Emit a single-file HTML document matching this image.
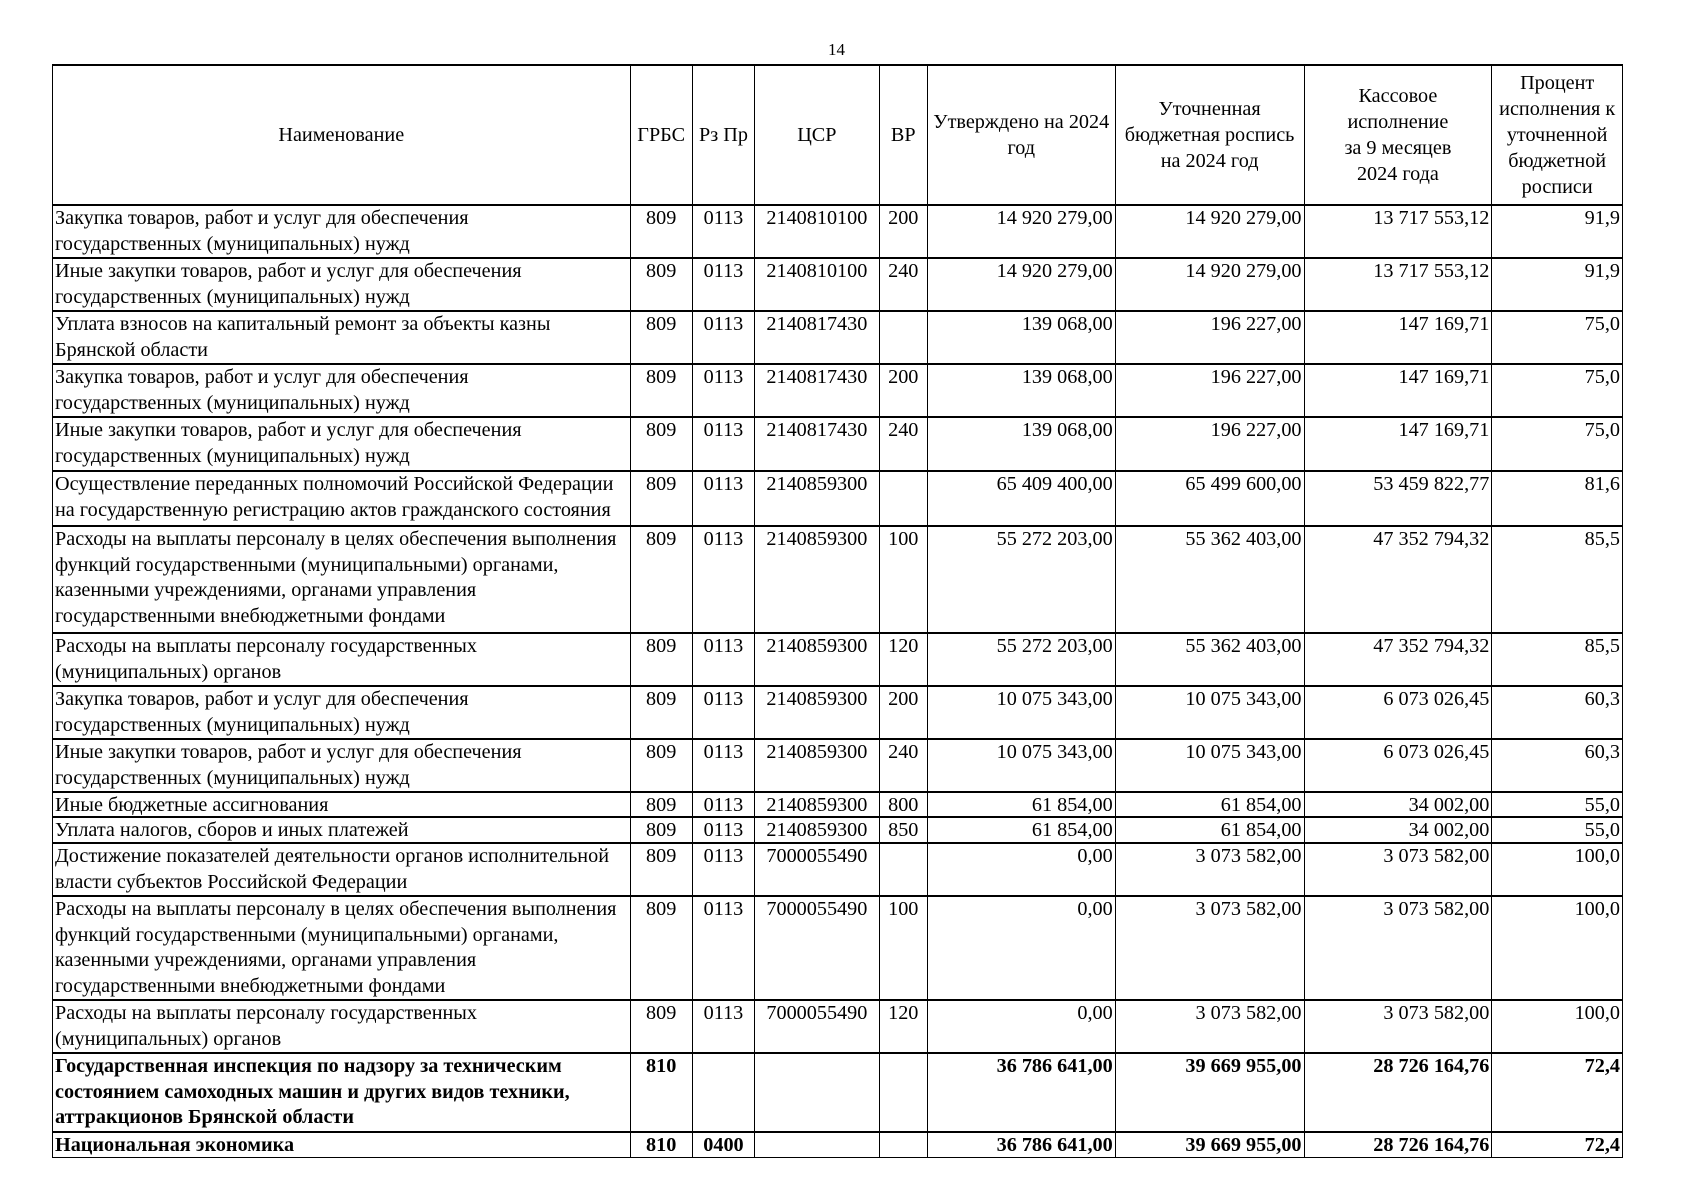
<!DOCTYPE html>
<html><head><meta charset="utf-8"><style>
body{margin:0;width:1689px;height:1200px;background:#fff;position:relative;font-family:"Liberation Serif",serif;color:#000}
.pn{position:absolute;left:828px;top:40px;font-size:17px}
table{position:absolute;left:52px;top:64px;border-collapse:collapse;table-layout:fixed;font-size:20.2px;line-height:25.5px;width:1571px}
td{border:1.5px solid #000;vertical-align:top;padding:0 2px 0 2px;overflow:hidden;white-space:nowrap}
td.c{text-align:center}td.r{text-align:right}
tr.s td{line-height:22px;padding-top:1px}
tr.h td{vertical-align:middle;text-align:center;white-space:nowrap;line-height:26px;padding:0 1px}
tr{border-top:2.5px solid #000}
.b td{font-weight:bold}
</style></head><body>
<div class="pn">14</div>
<table>
<colgroup><col style="width:575px"><col style="width:62px"><col style="width:62px"><col style="width:124px"><col style="width:48px"><col style="width:187px"><col style="width:188px"><col style="width:187px"><col style="width:130px"></colgroup>
<tr class="h" style="height:140px"><td>Наименование</td><td>ГРБС</td><td>Рз Пр</td><td>ЦСР</td><td>ВР</td><td>Утверждено на 2024<br>год</td><td>Уточненная<br>бюджетная роспись<br>на 2024 год</td><td>Кассовое<br>исполнение<br>за 9 месяцев<br>2024 года</td><td>Процент<br>исполнения к<br>уточненной<br>бюджетной<br>росписи</td></tr>
<tr style="height:53px"><td>Закупка товаров, работ и услуг для обеспечения<br>государственных (муниципальных) нужд</td><td class="c">809</td><td class="c">0113</td><td class="c">2140810100</td><td class="c">200</td><td class="r">14 920 279,00</td><td class="r">14 920 279,00</td><td class="r">13 717 553,12</td><td class="r">91,9</td></tr>
<tr style="height:52px"><td>Иные закупки товаров, работ и услуг для обеспечения<br>государственных (муниципальных) нужд</td><td class="c">809</td><td class="c">0113</td><td class="c">2140810100</td><td class="c">240</td><td class="r">14 920 279,00</td><td class="r">14 920 279,00</td><td class="r">13 717 553,12</td><td class="r">91,9</td></tr>
<tr style="height:53px"><td>Уплата взносов на капитальный ремонт за объекты казны<br>Брянской области</td><td class="c">809</td><td class="c">0113</td><td class="c">2140817430</td><td class="c"></td><td class="r">139 068,00</td><td class="r">196 227,00</td><td class="r">147 169,71</td><td class="r">75,0</td></tr>
<tr style="height:53px"><td>Закупка товаров, работ и услуг для обеспечения<br>государственных (муниципальных) нужд</td><td class="c">809</td><td class="c">0113</td><td class="c">2140817430</td><td class="c">200</td><td class="r">139 068,00</td><td class="r">196 227,00</td><td class="r">147 169,71</td><td class="r">75,0</td></tr>
<tr style="height:54px"><td>Иные закупки товаров, работ и услуг для обеспечения<br>государственных (муниципальных) нужд</td><td class="c">809</td><td class="c">0113</td><td class="c">2140817430</td><td class="c">240</td><td class="r">139 068,00</td><td class="r">196 227,00</td><td class="r">147 169,71</td><td class="r">75,0</td></tr>
<tr style="height:55px"><td>Осуществление переданных полномочий Российской Федерации<br>на государственную регистрацию актов гражданского состояния</td><td class="c">809</td><td class="c">0113</td><td class="c">2140859300</td><td class="c"></td><td class="r">65 409 400,00</td><td class="r">65 499 600,00</td><td class="r">53 459 822,77</td><td class="r">81,6</td></tr>
<tr style="height:107px"><td>Расходы на выплаты персоналу в целях обеспечения выполнения<br>функций государственными (муниципальными) органами,<br>казенными учреждениями, органами управления<br>государственными внебюджетными фондами</td><td class="c">809</td><td class="c">0113</td><td class="c">2140859300</td><td class="c">100</td><td class="r">55 272 203,00</td><td class="r">55 362 403,00</td><td class="r">47 352 794,32</td><td class="r">85,5</td></tr>
<tr style="height:53px"><td>Расходы на выплаты персоналу государственных<br>(муниципальных) органов</td><td class="c">809</td><td class="c">0113</td><td class="c">2140859300</td><td class="c">120</td><td class="r">55 272 203,00</td><td class="r">55 362 403,00</td><td class="r">47 352 794,32</td><td class="r">85,5</td></tr>
<tr style="height:53px"><td>Закупка товаров, работ и услуг для обеспечения<br>государственных (муниципальных) нужд</td><td class="c">809</td><td class="c">0113</td><td class="c">2140859300</td><td class="c">200</td><td class="r">10 075 343,00</td><td class="r">10 075 343,00</td><td class="r">6 073 026,45</td><td class="r">60,3</td></tr>
<tr style="height:53px"><td>Иные закупки товаров, работ и услуг для обеспечения<br>государственных (муниципальных) нужд</td><td class="c">809</td><td class="c">0113</td><td class="c">2140859300</td><td class="c">240</td><td class="r">10 075 343,00</td><td class="r">10 075 343,00</td><td class="r">6 073 026,45</td><td class="r">60,3</td></tr>
<tr class="s" style="height:25px"><td>Иные бюджетные ассигнования</td><td class="c">809</td><td class="c">0113</td><td class="c">2140859300</td><td class="c">800</td><td class="r">61 854,00</td><td class="r">61 854,00</td><td class="r">34 002,00</td><td class="r">55,0</td></tr>
<tr class="s" style="height:26px"><td>Уплата налогов, сборов и иных платежей</td><td class="c">809</td><td class="c">0113</td><td class="c">2140859300</td><td class="c">850</td><td class="r">61 854,00</td><td class="r">61 854,00</td><td class="r">34 002,00</td><td class="r">55,0</td></tr>
<tr style="height:53px"><td>Достижение показателей деятельности органов исполнительной<br>власти субъектов Российской Федерации</td><td class="c">809</td><td class="c">0113</td><td class="c">7000055490</td><td class="c"></td><td class="r">0,00</td><td class="r">3 073 582,00</td><td class="r">3 073 582,00</td><td class="r">100,0</td></tr>
<tr style="height:104px"><td>Расходы на выплаты персоналу в целях обеспечения выполнения<br>функций государственными (муниципальными) органами,<br>казенными учреждениями, органами управления<br>государственными внебюджетными фондами</td><td class="c">809</td><td class="c">0113</td><td class="c">7000055490</td><td class="c">100</td><td class="r">0,00</td><td class="r">3 073 582,00</td><td class="r">3 073 582,00</td><td class="r">100,0</td></tr>
<tr style="height:53px"><td>Расходы на выплаты персоналу государственных<br>(муниципальных) органов</td><td class="c">809</td><td class="c">0113</td><td class="c">7000055490</td><td class="c">120</td><td class="r">0,00</td><td class="r">3 073 582,00</td><td class="r">3 073 582,00</td><td class="r">100,0</td></tr>
<tr class="b" style="height:79px"><td>Государственная инспекция по надзору за техническим<br>состоянием самоходных машин и других видов техники,<br>аттракционов Брянской области</td><td class="c">810</td><td class="c"></td><td class="c"></td><td class="c"></td><td class="r">36 786 641,00</td><td class="r">39 669 955,00</td><td class="r">28 726 164,76</td><td class="r">72,4</td></tr>
<tr class="b s" style="height:25px"><td>Национальная экономика</td><td class="c">810</td><td class="c">0400</td><td class="c"></td><td class="c"></td><td class="r">36 786 641,00</td><td class="r">39 669 955,00</td><td class="r">28 726 164,76</td><td class="r">72,4</td></tr>
</table>
</body></html>
